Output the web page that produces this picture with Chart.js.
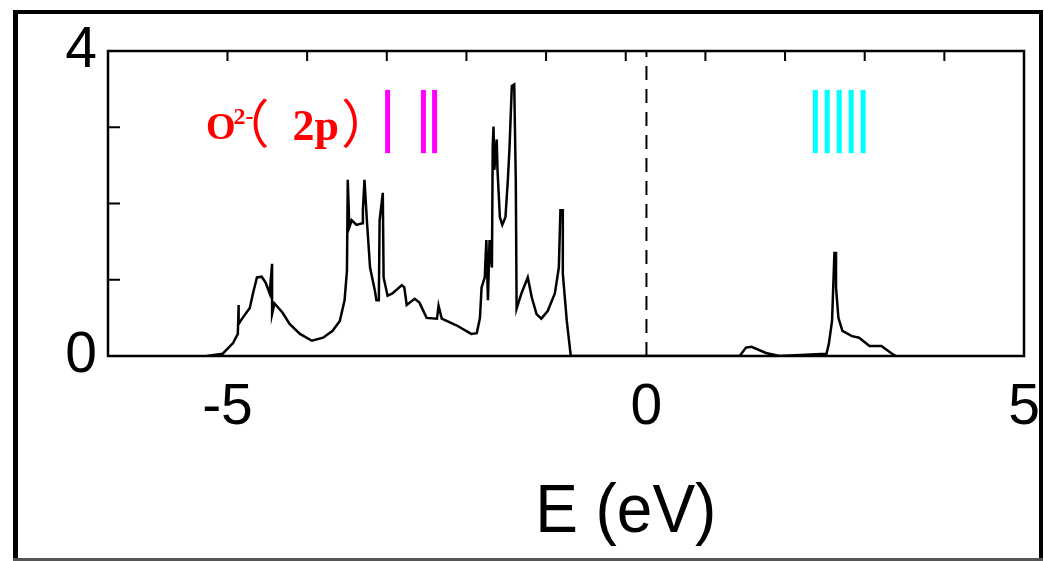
<!DOCTYPE html>
<html>
<head>
<meta charset="utf-8">
<script src="https://cdn.jsdelivr.net/npm/chart.js@4/dist/chart.umd.min.js"></script>
<style>
  html, body { margin: 0; padding: 0; background: #fff; }
  canvas { display: block; }
</style>
</head>
<body>
<canvas id="chart" width="1044" height="561"></canvas>
<script>
// Densidad de estados (E en eV, DOS en unidades arbitrarias)
const energy = [-5.26, -5.06, -4.93, -4.87, -4.86, -4.86, -4.81, -4.72, -4.68, -4.63,
    -4.57, -4.52, -4.47, -4.44, -4.44, -4.41, -4.31, -4.22, -4.09, -3.94,
    -3.80, -3.68, -3.59, -3.53, -3.50, -3.49, -3.47, -3.44, -3.38, -3.31,
    -3.30, -3.28, -3.25, -3.21, -3.15, -3.13, -3.10, -3.09, -3.05, -3.04,
    -2.99, -2.93, -2.81, -2.78, -2.75, -2.65, -2.59, -2.50, -2.37, -2.35,
    -2.31, -2.12, -1.94, -1.87, -1.83, -1.81, -1.77, -1.75, -1.73, -1.71,
    -1.68, -1.67, -1.66, -1.65, -1.62, -1.61, -1.58, -1.55, -1.51, -1.48,
    -1.46, -1.43, -1.40, -1.38, -1.37, -1.31, -1.23, -1.18, -1.12, -1.06,
    -0.98, -0.89, -0.84, -0.82, -0.79, -0.79, -0.74, -0.69,
    1.43, 1.51, 1.58, 1.76, 1.93, 2.52, 2.55, 2.59, 2.62, 2.64,
    2.64, 2.67, 2.72, 2.84, 2.93, 3.06, 3.21, 3.33, 3.39];
const dos = [0, 0.03, 0.17, 0.29, 0.67, 0.42, 0.50, 0.63, 0.82, 1.03,
    1.04, 0.96, 0.82, 1.21, 0.55, 0.69, 0.57, 0.42, 0.29, 0.20,
    0.24, 0.33, 0.46, 0.73, 1.12, 2.31, 1.69, 1.78, 1.72, 1.74,
    1.91, 2.31, 1.78, 1.16, 0.86, 0.73, 0.73, 1.78, 2.14, 1.03,
    0.79, 0.82, 0.93, 0.90, 0.67, 0.75, 0.70, 0.50, 0.49, 0.66,
    0.49, 0.40, 0.29, 0.30, 0.50, 0.90, 1.03, 1.52, 0.73, 1.52,
    1.16, 2.75, 3.01, 2.44, 2.84, 2.44, 1.82, 1.72, 1.82, 2.31,
    2.71, 3.54, 3.56, 2.27, 0.62, 0.82, 1.03, 0.77, 0.55, 0.49,
    0.59, 0.82, 1.16, 1.91, 1.91, 1.08, 0.46, 0,
    0, 0.11, 0.12, 0.04, 0, 0.03, 0.16, 0.46, 1.35, 1.35,
    0.90, 0.50, 0.33, 0.26, 0.24, 0.13, 0.13, 0.04, 0];

// Niveles marcados con barras de color
const oxygenLevels = [-2.99, -2.54, -2.40];
const conductionLevels = [2.38, 2.53, 2.68, 2.83, 2.98];
const levelBottom = 2.66;
const levelTop = 3.49;

// Nivel de Fermi (línea discontinua)
const fermiLevel = 0.26;

// Ejes
const xTickValues = [-5, fermiLevel, 5];
const xTickLabels = ['-5', '0', '5'];
const yTickValues = [0, 4];
const yTickLabels = ['0', '4'];
const topMinorTicks = [-5, -4, -3, -2, -1, 0, 1, 2, 3, 4];
const leftMinorTicks = [1, 2, 3];
const xTitle = 'E (eV)';

// Etiqueta de la banda O2-(2p): posición en coordenadas de datos
const bandLabelE = -5.27;
const bandLabelDos = 2.85;

function levelDatasets(levels, color) {
    return levels.map(e => ({
        data: [{ x: e, y: levelBottom }, { x: e, y: levelTop }],
        borderColor: color,
        borderWidth: 5,
        pointRadius: 0
    }));
}

const decorations = {
    id: 'decorations',
    afterDraw(chart) {
        const ctx = chart.ctx;
        const a = chart.chartArea;
        const xs = chart.scales.x;
        const ys = chart.scales.y;
        ctx.save();

        // caja del gráfico y marcas internas
        ctx.strokeStyle = '#000';
        ctx.lineWidth = 2.5;
        ctx.strokeRect(a.left, a.top, a.right - a.left, a.bottom - a.top);
        ctx.lineWidth = 2;
        ctx.beginPath();
        topMinorTicks.forEach(v => {
            const px = xs.getPixelForValue(v);
            ctx.moveTo(px, a.top);
            ctx.lineTo(px, a.top + 10);
        });
        leftMinorTicks.forEach(v => {
            const py = ys.getPixelForValue(v);
            ctx.moveTo(a.left, py);
            ctx.lineTo(a.left + 12, py);
        });
        ctx.stroke();

        // título del eje x (algo estrecho, como en el original)
        ctx.save();
        ctx.fillStyle = '#000';
        ctx.font = '68px "Liberation Sans", Arial, sans-serif';
        ctx.textAlign = 'center';
        ctx.textBaseline = 'alphabetic';
        ctx.translate(xs.getPixelForValue(0), a.bottom + 176);
        ctx.scale(0.94, 1);
        ctx.fillText(xTitle, 0, 0);
        ctx.restore();

        // etiqueta O2-（2p）
        let x = xs.getPixelForValue(bandLabelE);
        const y = ys.getPixelForValue(bandLabelDos);
        ctx.fillStyle = '#ff0000';
        ctx.textAlign = 'left';
        ctx.textBaseline = 'alphabetic';
        const bigO = 'bold 38px "Liberation Serif", "Times New Roman", serif';
        const big = 'bold 44px "Liberation Serif", "Times New Roman", serif';
        const sup = 'bold 24px "Liberation Serif", "Times New Roman", serif';
        const paren = '52px "Noto Sans CJK SC", sans-serif';
        // [texto, fuente, desplazamiento vertical, espacio previo]
        const pieces = [
            ['O', bigO, 0, 0], ['2-', sup, -15, -2], ['（', paren, 4, -36],
            ['2p', big, 1, 23], ['）', paren, 4, 2]
        ];
        pieces.forEach(([t, f, dy, gap]) => {
            x += gap;
            ctx.font = f;
            ctx.fillText(t, x, y + dy);
            x += ctx.measureText(t).width;
        });

        // marco exterior de la imagen
        ctx.fillStyle = '#000';
        ctx.fillRect(13, 10, 5, 551);
        ctx.fillRect(13, 10, 1030, 4);
        ctx.fillRect(1039, 10, 4, 551);
        ctx.fillStyle = '#555';
        ctx.fillRect(13, 558, 1030, 3);
        ctx.restore();
    }
};

const ctx = document.getElementById('chart').getContext('2d');
const tickFont = { family: '"Liberation Sans", Arial, sans-serif', size: 57 };

new Chart(ctx, {
    type: 'line',
    data: {
        datasets: [
            {
                data: energy.map((e, i) => ({ x: e, y: dos[i] })),
                borderColor: '#000',
                borderWidth: 2.5,
                pointRadius: 0,
                tension: 0
            },
            {
                data: [{ x: fermiLevel, y: 0 }, { x: fermiLevel, y: 4 }],
                borderColor: '#000',
                borderWidth: 2,
                borderDash: [14, 9],
                pointRadius: 0
            },
            ...levelDatasets(oxygenLevels, '#ff00ff'),
            ...levelDatasets(conductionLevels, '#00ffff')
        ]
    },
    options: {
        responsive: false,
        animation: false,
        layout: { padding: { top: 51, right: 20, left: 0, bottom: 0 } },
        plugins: { legend: { display: false }, tooltip: { enabled: false } },
        scales: {
            x: {
                type: 'linear',
                min: -6.5,
                max: 5,
                grid: { display: false, drawTicks: false },
                border: { display: false },
                afterBuildTicks: s => { s.ticks = xTickValues.map(v => ({ value: v })); },
                afterFit: s => {
                    s.height = 205;
                    s.paddingLeft = 0;
                    s.paddingRight = 0;
                },
                ticks: {
                    font: tickFont,
                    color: '#000',
                    padding: 18,
                    maxRotation: 0,
                    autoSkip: false,
                    callback: (v, i) => xTickLabels[i]
                }
            },
            y: {
                min: 0,
                max: 4,
                grid: { display: false, drawTicks: false },
                border: { display: false },
                afterBuildTicks: s => { s.ticks = yTickValues.map(v => ({ value: v })); },
                afterFit: s => { s.width = 108; },
                ticks: {
                    font: tickFont,
                    color: '#000',
                    padding: 11,
                    autoSkip: false,
                    callback: (v, i) => yTickLabels[i]
                }
            }
        }
    },
    plugins: [decorations]
});
</script>
</body>
</html>
